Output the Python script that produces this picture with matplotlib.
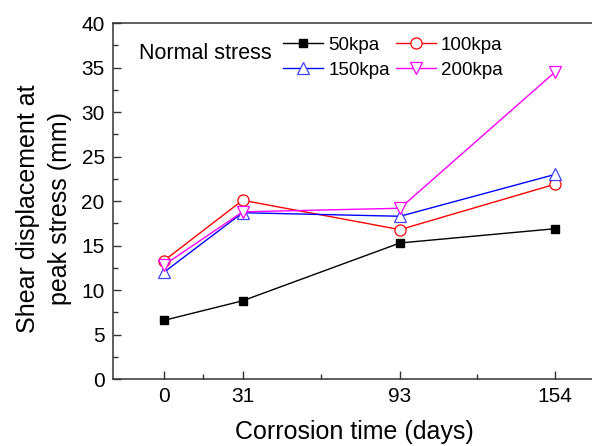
import matplotlib
matplotlib.use("Agg")
import matplotlib.pyplot as plt
from matplotlib.ticker import FixedLocator, MultipleLocator

plt.rcParams['font.family'] = ['Liberation Sans', 'DejaVu Sans']

days = [0, 31, 93, 154]
tick_labels = ["0", "31", "93", "154"]
minor_days = [15.5, 62, 123.5]
s50 = [6.6, 8.8, 15.3, 16.9]
s100 = [13.3, 20.1, 16.8, 21.9]
s150 = [12.0, 18.7, 18.3, 23.0]
s200 = [12.8, 18.8, 19.2, 34.5]

fig = plt.figure(figsize=(5.92, 4.46), dpi=100)
ax = fig.add_axes([0.191, 0.150, 0.815, 0.798])

h50, = ax.plot(days, s50, '-s', color='black', lw=1, ms=6, mfc='black', mec='black', label='50kpa')
h100, = ax.plot(days, s100, '-o', color='#ff0000', lw=1, ms=8, mfc='white', mec='#ff0000', mew=0.9, label='100kpa')
h150, = ax.plot(days, s150, '-^', color='#0000ff', lw=1, ms=8, mfc='white', mec='#4040ff', mew=0.9, label='150kpa')
h200, = ax.plot(days, s200, '-v', color='#ff00ff', lw=1, ms=8, mfc='white', mec='#ff00ff', mew=0.9, label='200kpa')

ax.set_xlim(-20, 170)
ax.set_ylim(0, 40)
ax.xaxis.set_major_locator(FixedLocator(days))
ax.set_xticklabels(tick_labels)
ax.xaxis.set_minor_locator(FixedLocator(minor_days))
ax.yaxis.set_major_locator(MultipleLocator(5))
ax.yaxis.set_minor_locator(MultipleLocator(2.5))
ax.tick_params(which='both', direction='in', top=False, right=False, labelsize=15, width=1, color='#333333')
ax.tick_params(which='major', length=6, pad=6)
ax.tick_params(which='minor', length=3.5)
ax.spines['right'].set_visible(False)
for s in ['left', 'bottom', 'top']:
    ax.spines[s].set_linewidth(1.1)
    ax.spines[s].set_color('#333333')

ax.set_xlabel('Corrosion time (days)', fontsize=18, labelpad=10)
ax.set_ylabel('Shear displacement at\npeak stress (mm)', fontsize=18, labelpad=6, linespacing=1.45)
ax.yaxis.set_label_coords(-0.085, 0.478)

ax.text(0.054, 0.916, 'Normal stress', transform=ax.transAxes, fontsize=15.5, va='center', ha='left')
ax.legend(handles=[h50, h150, h100, h200], ncol=2, loc='upper left', bbox_to_anchor=(0.353, 0.962),
          frameon=False, fontsize=13.5, handlelength=2.13, handletextpad=0.27, columnspacing=0.3,
          labelspacing=0.42, borderpad=0, borderaxespad=0)

fig.savefig('out.png', dpi=100)
